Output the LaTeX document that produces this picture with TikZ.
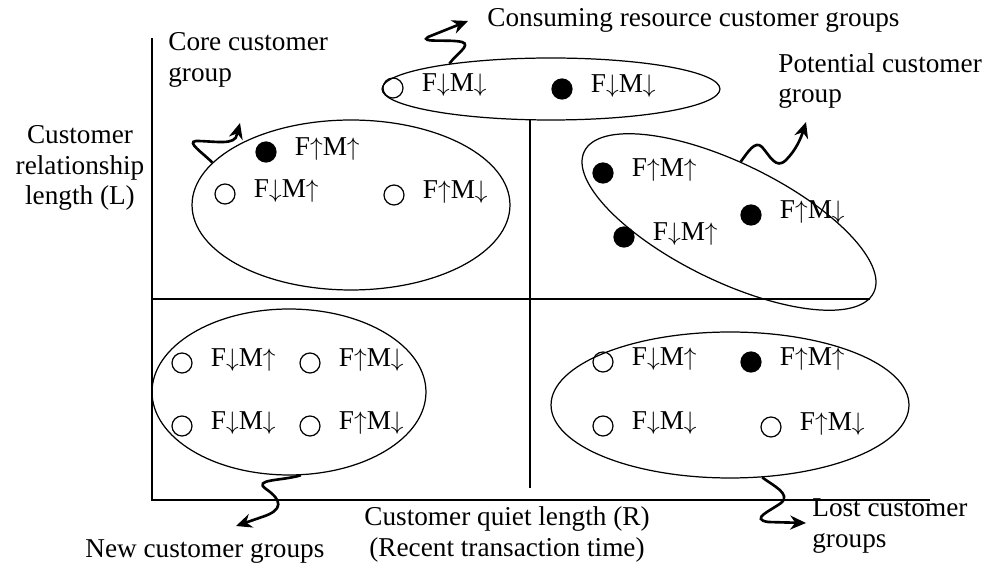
\documentclass[tikz,border=0pt]{standalone}
\usepackage{fontspec}
\setmainfont{Liberation Serif}
\usetikzlibrary{positioning,shapes.geometric,arrows.meta}

\newcommand{\hi}{$\uparrow$}
\newcommand{\lo}{$\downarrow$}

\tikzset{
	group/.style={shape=ellipse, draw, line width=0.7pt, inner sep=0pt},
	open/.style={shape=circle, draw, line width=0.7pt, minimum size=0.4cm, inner sep=0pt},
	full/.style={open, fill=black},
	fm/.style={font=\fontsize{15.5}{17.6}\selectfont, inner sep=0pt, right=0.36cm of #1, yshift=1.5pt},
	lbl/.style={font=\fontsize{15.5}{17.6}\selectfont, align=left, inner sep=0pt},
	flow/.style={line width=1.5pt, -{Stealth[length=9pt,width=8pt]}},
}

\begin{document}
\begin{tikzpicture}[x=0.02cm, y=-0.02cm]
	\useasboundingbox (0,0) rectangle (997,570);

	% axes and quadrants
	\draw[line width=0.85pt] (152,38) -- (152,500) -- (930,500);
	\draw[line width=0.85pt] (152,299) -- (870,299);
	\draw[line width=0.85pt] (530,120) -- (530,488);

	% groups
	\node[group, minimum width=6.76cm, minimum height=1.24cm] (cons) at (551,89) {};
	\node[group, minimum width=6.36cm, minimum height=3.4cm] (core) at (351,205) {};
	\node[group, minimum width=6.44cm, minimum height=2.36cm, rotate=-26] (pot) at (729,222) {};
	\node[group, minimum width=5.48cm, minimum height=3.32cm] (new) at (289,392) {};
	\node[group, minimum width=7.16cm, minimum height=2.92cm] (lost) at (730,405) {};

	% consuming resource
	\node[open] (c1) at (393,88) {};
	\node[fm=c1] {F\lo M\lo};
	\node[full] (c2) at (562,89) {};
	\node[fm=c2] {F\lo M\lo};

	% core
	\node[full] (k1) at (266,152) {};
	\node[fm=k1] {F\hi M\hi};
	\node[open] (k2) at (225,194) {};
	\node[fm=k2] {F\lo M\hi};
	\node[open] (k3) at (394,195) {};
	\node[fm=k3] {F\hi M\lo};

	% potential
	\node[full] (p1) at (603,173) {};
	\node[fm=p1] {F\hi M\hi};
	\node[full] (p2) at (751,215) {};
	\node[fm=p2] {F\hi M\lo};
	\node[full] (p3) at (624,237) {};
	\node[fm=p3] {F\lo M\hi};

	% new
	\node[open] (n1) at (182,363) {};
	\node[fm=n1] {F\lo M\hi};
	\node[open] (n2) at (310,363) {};
	\node[fm=n2] {F\hi M\lo};
	\node[open] (n3) at (182,426) {};
	\node[fm=n3] {F\lo M\lo};
	\node[open] (n4) at (310,426) {};
	\node[fm=n4] {F\hi M\lo};

	% lost
	\node[open] (l1) at (603,362) {};
	\node[fm=l1] {F\lo M\hi};
	\node[full] (l2) at (751,362) {};
	\node[fm=l2] {F\hi M\hi};
	\node[open] (l3) at (603,426) {};
	\node[fm=l3] {F\lo M\lo};
	\node[open] (l4) at (771,427) {};
	\node[fm=l4] {F\hi M\lo};

	% labels
	\node[lbl, anchor=west] (tcore) at (168,60) {Core customer\\group};
	\node[lbl, anchor=west] (tcons) at (487,20) {Consuming resource customer groups};
	\node[lbl, anchor=west] (tpot) at (778,81) {Potential customer\\group};
	\node[lbl, align=center] (tlen) at (80,168) {Customer\\relationship\\length (L)};
	\node[lbl, align=center] (tquiet) at (507,534) {Customer quiet length (R)\\(Recent transaction time)};
	\node[lbl, anchor=west] (tnew) at (85,552) {New customer groups};
	\node[lbl, anchor=west] (tlost) at (812,526) {Lost customer\\groups};

	% arrows
	\draw[flow] (cons.166) .. controls (455,55) and (472,45) .. (462,42)
		.. controls (450,39) and (418,43) .. (428,37) -- (468,21);
	\draw[flow] (core.163) .. controls (203,153) and (186,142) .. (196,141)
		.. controls (215,141) and (236,146) .. (237,134) -- (240,123);
	\draw[flow] (pot.105) .. controls (748,152) and (755,140) .. (762,147)
		.. controls (770,156) and (776,170) .. (786,160) .. controls (796,150) and (801,138) .. (806,122);
	\draw[flow] (new.-82) .. controls (282,481) and (252,479) .. (266,489)
		.. controls (282,500) and (284,510) .. (262,517) -- (236,526);
	\draw[flow] (lost.-66) .. controls (772,485) and (792,494) .. (781,503)
		.. controls (770,511) and (750,519) .. (768,522) -- (806,523);
\end{tikzpicture}
\end{document}
